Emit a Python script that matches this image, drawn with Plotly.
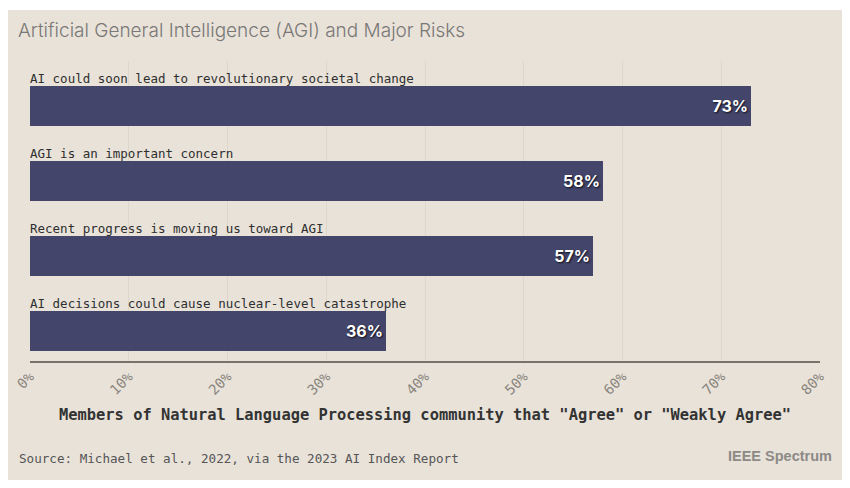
import plotly.graph_objects as go

categories = [
    "AI could soon lead to revolutionary societal change",
    "AGI is an important concern",
    "Recent progress is moving us toward AGI",
    "AI decisions could cause nuclear-level catastrophe",
]
values = [73, 58, 57, 36]
tick_vals = [0, 10, 20, 30, 40, 50, 60, 70, 80]
tick_text = ["0%", "10%", "20%", "30%", "40%", "50%", "60%", "70%", "80%"]

BG = "#E8E2D9"
BAR = "#43456B"
MONO = "DejaVu Sans Mono"

# figure is placed by the page at offset (8, 8)
OFF = 8
W, H = 834, 472
ML, MR, MT, MB = 22, 22, 53, 119
PW = W - ML - MR
PH = H - MT - MB

def px_x(page_x):
    return (page_x - OFF - ML) / PW

def px_y(page_y):
    return (H - MB - (page_y - OFF)) / PH

ypos = list(range(len(categories)))
bar_w = 0.54

fig = go.Figure()
fig.add_trace(go.Bar(
    x=values,
    y=ypos,
    orientation="h",
    width=bar_w,
    marker=dict(color=BAR, line=dict(width=0)),
    text=[f"{v}%" for v in values],
    textposition="inside",
    insidetextanchor="end",
    textangle=0,
    textfont=dict(family="Inter", size=16, color="white", weight="bold",
                  shadow="1px 1px 2px rgba(0,0,0,0.8)"),
    hoverinfo="skip",
    cliponaxis=False,
))

annotations = []
for i, c in enumerate(categories):
    annotations.append(dict(
        x=0, y=i - bar_w / 2, xref="x", yref="y",
        text=c, showarrow=False, xanchor="left", yanchor="bottom",
        yshift=-2, xshift=-2,
        font=dict(family=MONO, size=12.5, color="#2f2f2f"),
    ))

annotations.append(dict(
    x=px_x(16), y=px_y(31), xref="paper", yref="paper",
    text="Artificial General Intelligence (AGI) and Major Risks",
    showarrow=False, xanchor="left", yanchor="middle",
    font=dict(family="Inter", size=19, color="#7a7876", weight=300),
))
annotations.append(dict(
    x=0.5, y=px_y(415), xref="paper", yref="paper",
    text='Members of Natural Language Processing community that "Agree" or "Weakly Agree"',
    showarrow=False, xanchor="center", yanchor="middle",
    font=dict(family=MONO, size=15.4, color="#333333", weight="bold"),
))
annotations.append(dict(
    x=px_x(17), y=px_y(458), xref="paper", yref="paper",
    text="Source: Michael et al., 2022, via the 2023 AI Index Report",
    showarrow=False, xanchor="left", yanchor="middle",
    font=dict(family=MONO, size=12.6, color="#555555"),
))
annotations.append(dict(
    x=px_x(834), y=px_y(456), xref="paper", yref="paper",
    text="IEEE Spectrum",
    showarrow=False, xanchor="right", yanchor="middle",
    font=dict(family="Liberation Sans Narrow, Liberation Sans", size=14.5, color="#8d8a86", weight="bold"),
))

fig.update_layout(
    width=W, height=H,
    margin=dict(l=ML, r=MR, t=MT, b=MB, pad=0, autoexpand=False),
    paper_bgcolor="white",
    plot_bgcolor="rgba(0,0,0,0)",
    showlegend=False,
    bargap=0,
    shapes=[dict(
        type="rect", xref="paper", yref="paper", layer="below",
        x0=px_x(8), x1=px_x(842), y0=px_y(480), y1=px_y(10),
        fillcolor=BG, line=dict(width=0),
    )],
    annotations=annotations,
    xaxis=dict(
        range=[0, 80],
        tickvals=tick_vals, ticktext=tick_text,
        tickangle=-45,
        tickfont=dict(family=MONO, size=14, color="#8a857d"),
        showgrid=True, gridcolor="#DDD6CB", gridwidth=1,
        zeroline=False,
        showline=True, linecolor="#77726B", linewidth=2,
        ticks="", fixedrange=True, automargin=False,
    ),
    yaxis=dict(
        range=[3.4, -0.6],
        showticklabels=False, showgrid=False, zeroline=False,
        showline=False, ticks="", fixedrange=True, automargin=False,
    ),
)

fig.write_html("out.html")
